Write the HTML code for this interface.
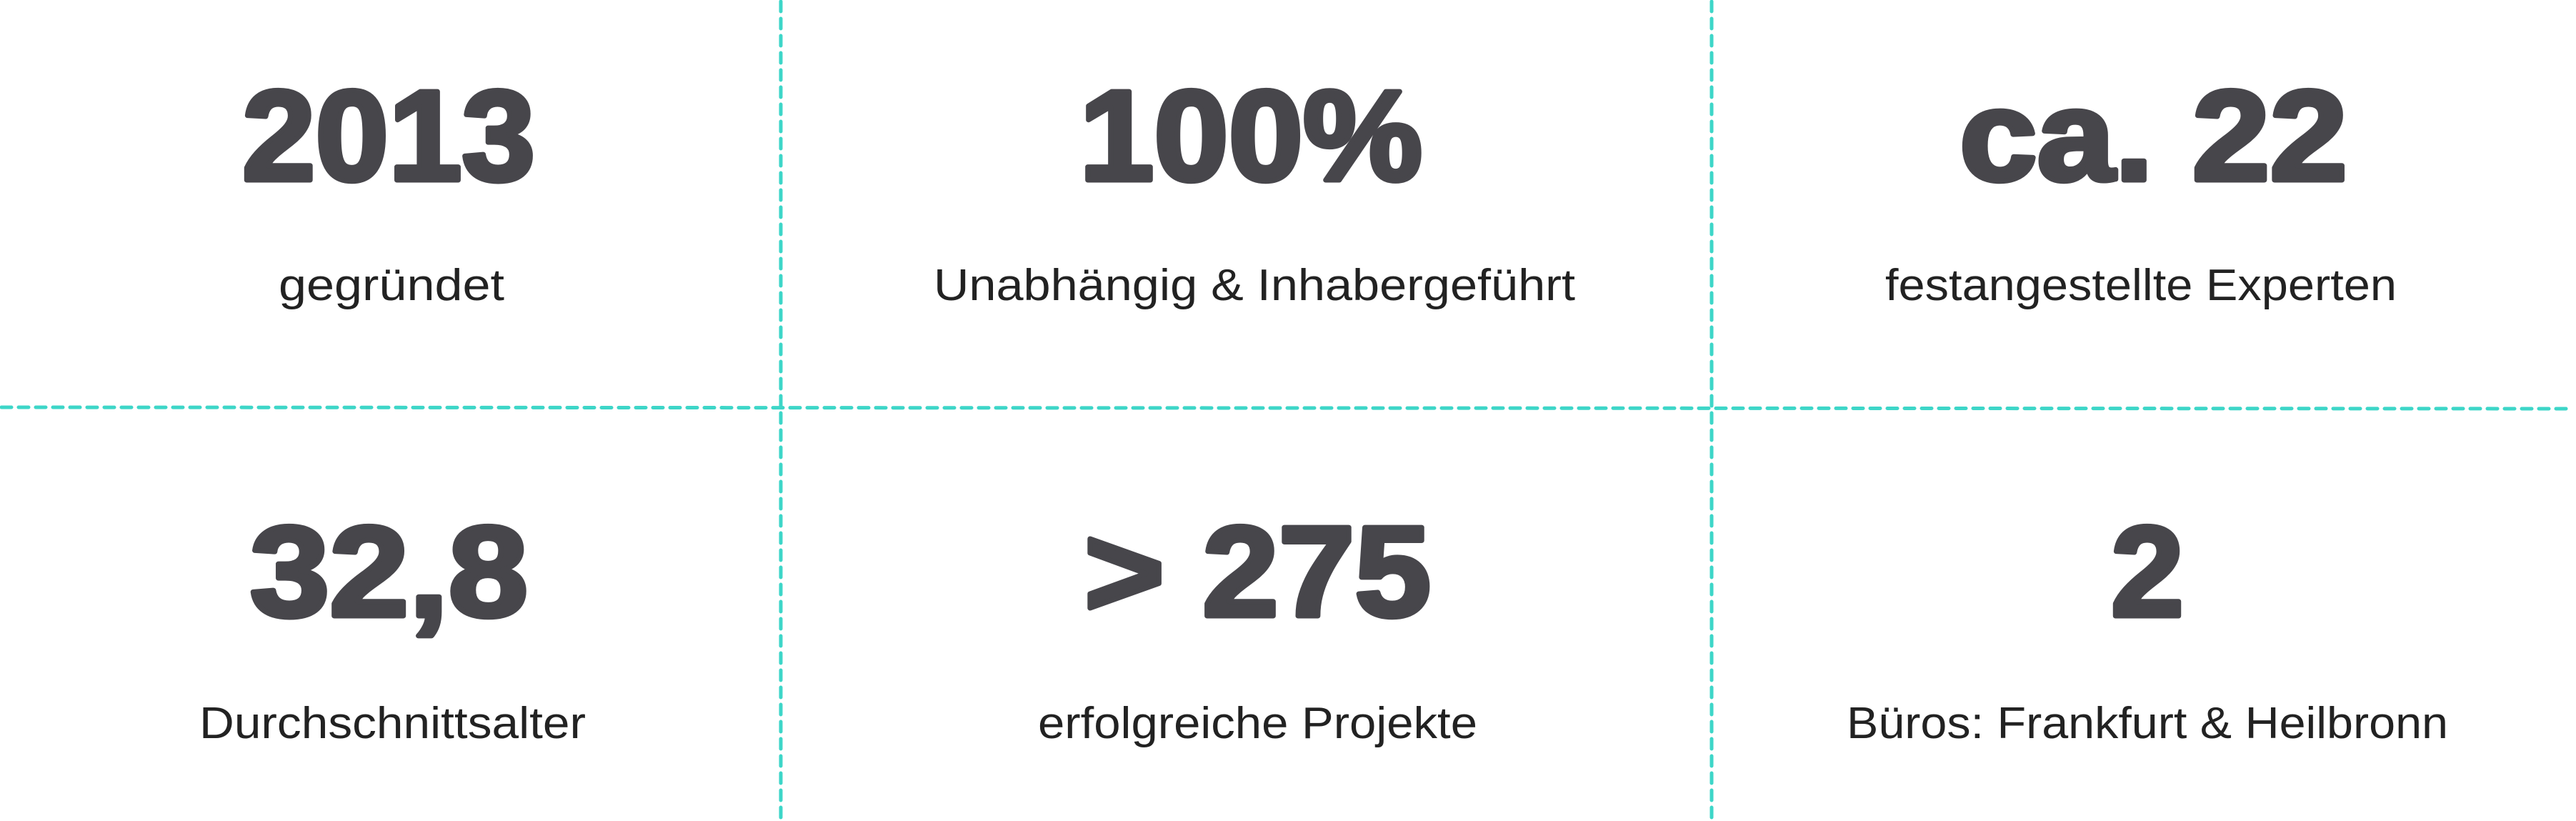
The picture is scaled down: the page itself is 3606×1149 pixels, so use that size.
<!DOCTYPE html>
<html><head><meta charset="utf-8"><style>
html,body{margin:0;padding:0;background:#fff;width:3606px;height:1149px;overflow:hidden}
svg{display:block}
.n{font-family:"Liberation Sans",sans-serif;font-weight:bold;font-size:180px;fill:#47464b;stroke:#47464b;stroke-width:7px;stroke-linejoin:round}
.l{font-family:"Liberation Sans",sans-serif;font-size:62px;fill:#222}
</style></head><body>
<svg width="3606" height="1149" viewBox="0 0 3606 1149">
<g stroke="#3dd6c8" stroke-width="5" stroke-linecap="round" stroke-dasharray="14 10" fill="none">
<line x1="1093" y1="2" x2="1093" y2="1149"/>
<line x1="2396" y1="2" x2="2396" y2="1149"/>
<line x1="2" y1="570" x2="3600" y2="572"/>
</g>
<text class="n" x="339" y="252" textLength="410" lengthAdjust="spacingAndGlyphs">2013</text>
<text class="n" x="1511" y="252" textLength="480" lengthAdjust="spacingAndGlyphs">100%</text>
<text class="n" x="2743" y="252" textLength="543" lengthAdjust="spacingAndGlyphs">ca. 22</text>
<text class="n" x="350" y="862" textLength="389" lengthAdjust="spacingAndGlyphs">32,8</text>
<text class="n" x="1518" y="862" textLength="485" lengthAdjust="spacingAndGlyphs">&gt; 275</text>
<text class="n" x="2955" y="862" textLength="102" lengthAdjust="spacingAndGlyphs">2</text>
<text class="l" x="390" y="420" textLength="316" lengthAdjust="spacingAndGlyphs">gegründet</text>
<text class="l" x="1307" y="420" textLength="898" lengthAdjust="spacingAndGlyphs">Unabhängig &amp; Inhabergeführt</text>
<text class="l" x="2639" y="420" textLength="716" lengthAdjust="spacingAndGlyphs">festangestellte Experten</text>
<text class="l" x="279" y="1033" textLength="541" lengthAdjust="spacingAndGlyphs">Durchschnittsalter</text>
<text class="l" x="1453" y="1033" textLength="615" lengthAdjust="spacingAndGlyphs">erfolgreiche Projekte</text>
<text class="l" x="2585" y="1033" textLength="842" lengthAdjust="spacingAndGlyphs">Büros: Frankfurt &amp; Heilbronn</text>
</svg>
</body></html>
